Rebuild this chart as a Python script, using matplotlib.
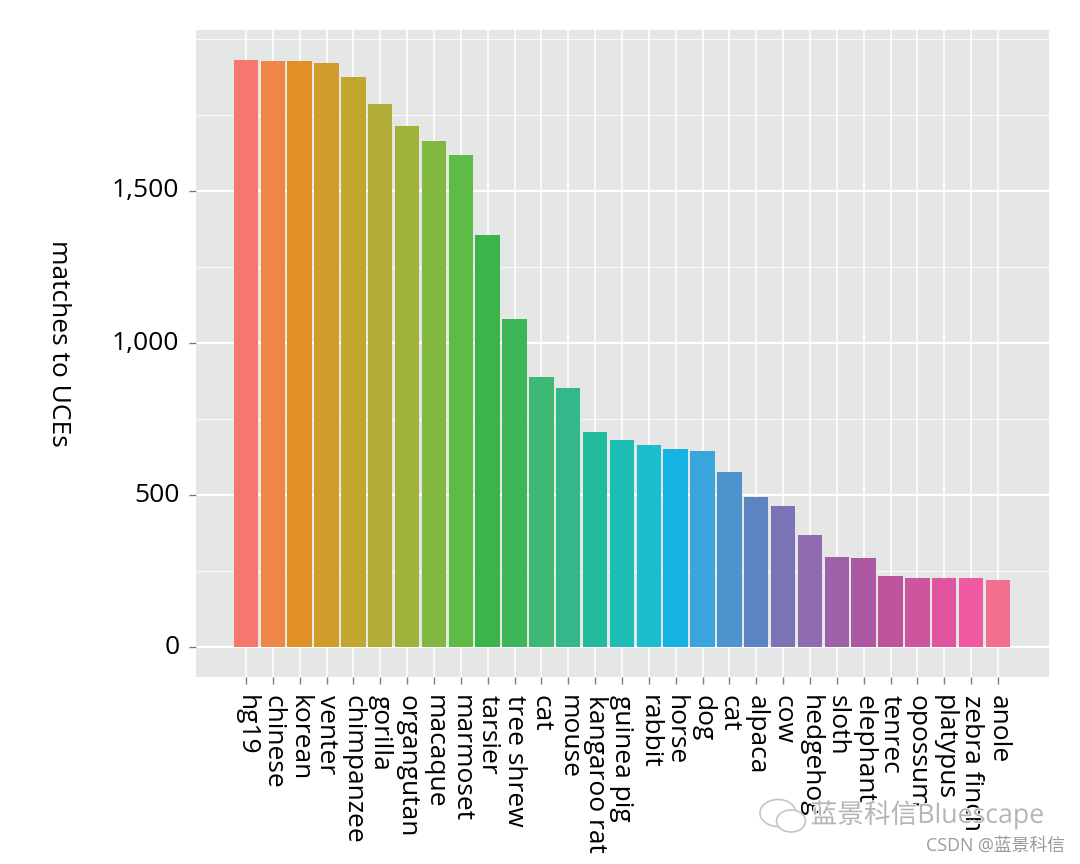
import matplotlib
matplotlib.use("Agg")
import matplotlib.pyplot as plt
import matplotlib.patheffects as pe
from matplotlib.patches import Ellipse
from matplotlib.transforms import ScaledTranslation

species = ["hg19", "chinese", "korean", "venter", "chimpanzee", "gorilla", "organgutan",
           "macaque", "marmoset", "tarsier", "tree shrew", "cat", "mouse", "kangaroo rat",
           "guinea pig", "rabbit", "horse", "dog", "cat", "alpaca", "cow", "hedgehog",
           "sloth", "elephant", "tenrec", "opossum", "platypus", "zebra finch", "anole"]
matches = [1930, 1927, 1927, 1921, 1875, 1786, 1715, 1664, 1618, 1355, 1079, 889, 853, 708,
           682, 665, 652, 647, 577, 495, 465, 370, 297, 294, 235, 228, 228, 228, 223]
colors = ["#F5776E", "#EE8647", "#E09024", "#D19D2A", "#C3A62E", "#B2AB36", "#A0B23A",
          "#81B842", "#5EBC46", "#3AB54A", "#3FB559", "#3DB974", "#33B88A", "#22BB9E",
          "#1CBDB4", "#1DBDD0", "#15B2E3", "#3AA4DC", "#4D94CE", "#5C84C3", "#7A74B6",
          "#906BB0", "#9E60A6", "#AC57A1", "#BD549B", "#CC559E", "#E055A0", "#EF5AA1", "#F2708D"]
major_y = [0, 500, 1000, 1500]
minor_y = [250, 750, 1250, 1750, 2000]

plt.rcParams["font.family"] = ["Open Sans", "Noto Sans CJK SC", "DejaVu Sans"]
fig = plt.figure(figsize=(10.8, 8.64), dpi=100)
ax = fig.add_axes([196 / 1080, 1 - 677 / 864, (1049 - 196) / 1080, (677 - 30) / 864])
ax.set_facecolor("#E5E6E6")
x = list(range(len(species)))
ax.bar(x, matches, width=0.91, color=colors, edgecolor="none", zorder=3)

ax.set_xlim(-1.86, 29.9)
ax.set_ylim(-97, 2029)
ax.set_xticks(x)
ax.set_xticklabels(species, rotation=-90, ha="center", va="top", fontsize=19)
ax.set_yticks(major_y)
ax.set_yticklabels(["0", "500", "1,000", "1,500"], fontsize=19)
ax.set_yticks(minor_y, minor=True)
ax.tick_params(axis="both", which="major", length=5, width=1, color="#7F7F7F", pad=7)
ax.tick_params(axis="x", which="major", pad=8)
ax.tick_params(axis="y", which="minor", length=0)
ax.grid(True, axis="y", which="major", color="white", linewidth=1.5, zorder=1)
ax.grid(True, axis="x", which="major", color="white", linewidth=1.2, zorder=1)
ax.grid(True, axis="y", which="minor", color="white", linewidth=0.6, zorder=1)
ax.set_axisbelow(True)
for s in ax.spines.values():
    s.set_visible(False)

shift_up = ScaledTranslation(0, 3 / 100, fig.dpi_scale_trans)
for label in ax.get_yticklabels():
    label.set_transform(label.get_transform() + shift_up)

fig.text(58 / 1080, 1 - 343 / 864, "matches to UCEs", rotation=-90, ha="center", va="center", fontsize=19)

# Watermark: bubble icon, name and source line
halo = [pe.withStroke(linewidth=1.2, foreground="white")]
for cx, cy, w, h in [(778, 813, 36, 27), (791, 821, 29, 22)]:
    fig.add_artist(Ellipse((cx / 1080, 1 - cy / 864), w / 1080, h / 864, transform=fig.transFigure,
                           facecolor="white", edgecolor="#C4C4C4", linewidth=1.2))
fig.text(1044 / 1080, 1 - 815 / 864, "蓝景科信Bluescape", ha="right", va="center", fontsize=19.2,
         color="#B5B5B5", path_effects=halo)
fig.text(1065 / 1080, 1 - 846 / 864, "CSDN @蓝景科信", ha="right", va="center", fontsize=12.8, color="#9A9A9A")
fig.savefig("out.png", dpi=100, facecolor="white")
